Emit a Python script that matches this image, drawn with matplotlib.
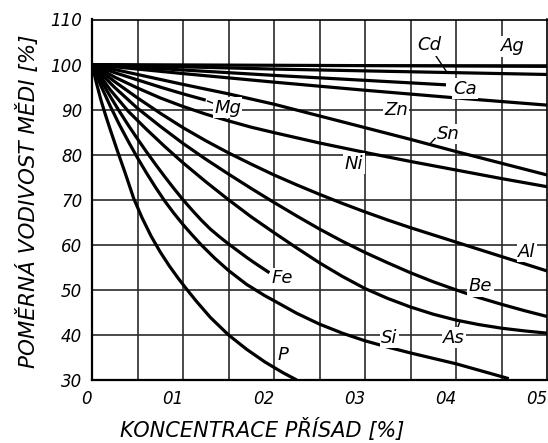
import matplotlib
matplotlib.use("Agg")
import matplotlib.pyplot as plt

# koncentrace přísady [%] a poměrná vodivost mědi [%]
ag_x = [0, 0.25, 0.5]
ag_y = [100, 99.8, 99.6]
cd_x = [0, 0.1, 0.2, 0.3, 0.4, 0.5]
cd_y = [100, 99.5, 99.0, 98.6, 98.2, 97.8]
ca_x = [0, 0.1, 0.2, 0.3, 0.389]
ca_y = [100, 98.8, 97.6, 96.5, 95.5]
zn_x = [0, 0.05, 0.1, 0.2, 0.3, 0.4, 0.5]
zn_y = [100, 99.0, 98.0, 96.1, 94.3, 92.6, 91.0]
mg_x = [0, 0.025, 0.05, 0.075, 0.1, 0.125]
mg_y = [100, 98.2, 96.6, 95.0, 93.5, 92.1]
sn_x = [0, 0.05, 0.1, 0.15, 0.2, 0.25, 0.3, 0.35, 0.4, 0.45, 0.5]
sn_y = [100, 97.8, 95.6, 93.5, 91.2, 88.6, 86.0, 83.4, 80.7, 78.1, 75.5]
ni_x = [0, 0.025, 0.05, 0.075, 0.1, 0.125, 0.15, 0.175, 0.2, 0.25, 0.3, 0.35, 0.4, 0.45, 0.5]
ni_y = [100, 97.2, 94.8, 92.6, 90.7, 89.0, 87.5, 86.1, 84.9, 82.6, 80.5, 78.5, 76.6, 74.7, 72.9]
al_x = [0, 0.025, 0.05, 0.075, 0.1, 0.125, 0.15, 0.175, 0.2, 0.225, 0.25, 0.275,
        0.3, 0.325, 0.35, 0.375, 0.4, 0.425, 0.45, 0.475, 0.5]
al_y = [100, 96.2, 92.6, 89.2, 86.0, 83.1, 80.4, 77.9, 75.5, 73.3, 71.2, 69.2,
        67.3, 65.5, 63.8, 62.2, 60.6, 59.0, 57.4, 55.8, 54.2]
be_x = [0, 0.025, 0.05, 0.075, 0.1, 0.125, 0.15, 0.175, 0.2, 0.225, 0.25, 0.275,
        0.3, 0.325, 0.35, 0.375, 0.4, 0.425, 0.45, 0.475, 0.5]
be_y = [100, 94.9, 90.3, 86.3, 82.5, 79.0, 75.7, 72.5, 69.4, 66.4, 63.5, 60.8,
        58.3, 56.0, 53.8, 51.8, 50.0, 48.3, 46.8, 45.4, 44.1]
as_x = [0, 0.02, 0.04, 0.06, 0.08, 0.1, 0.125, 0.15, 0.175, 0.2, 0.225, 0.25,
        0.275, 0.3, 0.325, 0.35, 0.375, 0.4, 0.425, 0.45, 0.475, 0.5]
as_y = [100, 94.4, 89.6, 85.6, 81.8, 78.2, 74.0, 70.0, 66.2, 62.7, 59.3, 56.0,
        53.0, 50.3, 48.1, 46.2, 44.6, 43.3, 42.3, 41.5, 40.9, 40.4]
fe_x = [0, 0.01, 0.02, 0.03, 0.04, 0.05, 0.06, 0.07, 0.08, 0.09, 0.1, 0.11, 0.12,
        0.13, 0.14, 0.15, 0.16, 0.17, 0.18, 0.195]
fe_y = [100, 96.4, 92.95, 89.65, 86.5, 83.5, 80.6, 77.8, 75.1, 72.5, 70.0, 67.7, 65.5,
        63.5, 61.8, 60.2, 58.7, 57.2, 55.8, 53.8]
si_x = [0, 0.01, 0.02, 0.03, 0.04, 0.05, 0.06, 0.07, 0.08, 0.09, 0.1, 0.11, 0.12,
        0.135, 0.15, 0.17, 0.19, 0.2, 0.225, 0.25, 0.275, 0.3, 0.325, 0.35, 0.375,
        0.4, 0.43, 0.458]
si_y = [100, 95.2, 90.8, 86.7, 82.9, 79.3, 75.9, 72.7, 69.7, 67.0, 64.5, 62.2, 60.0,
        57.0, 54.3, 51.2, 48.7, 47.6, 44.8, 42.4, 40.4, 38.7, 37.3, 36.0, 34.8,
        33.6, 31.9, 30.3]
p_x = [0, 0.005, 0.01, 0.015, 0.02, 0.028, 0.036, 0.046, 0.055, 0.065, 0.075, 0.085,
       0.095, 0.105, 0.115, 0.13, 0.15, 0.17, 0.19, 0.21, 0.225]
p_y = [100, 95.8, 92.0, 88.7, 85.6, 80.8, 76.2, 70.2, 66.0, 61.9, 58.4, 55.3,
       52.5, 49.9, 47.4, 43.9, 40.0, 36.8, 34.0, 31.6, 30.0]

curves = [(ag_x, ag_y), (cd_x, cd_y), (ca_x, ca_y), (zn_x, zn_y), (mg_x, mg_y),
          (sn_x, sn_y), (ni_x, ni_y), (al_x, al_y), (be_x, be_y), (as_x, as_y),
          (fe_x, fe_y), (si_x, si_y), (p_x, p_y)]

# popisky křivek: (text, x, y)
labels = [("Cd", 0.371, 104.3), ("Ag", 0.462, 104.1), ("Ca", 0.41, 94.6),
          ("Zn", 0.334, 89.9), ("Mg", 0.149, 90.4), ("Sn", 0.392, 84.6),
          ("Ni", 0.288, 78.0), ("Al", 0.478, 58.4), ("Be", 0.427, 50.8),
          ("Fe", 0.209, 52.6), ("As", 0.398, 39.4), ("Si", 0.327, 39.4),
          ("P", 0.21, 35.6)]

x_ticks = [0, 0.1, 0.2, 0.3, 0.4, 0.5]
x_ticklabels = ["0", "01", "02", "03", "04", "05"]
y_ticks = [30, 40, 50, 60, 70, 80, 90, 100, 110]

fig = plt.figure(figsize=(5.48, 4.43), dpi=100)
ax = fig.add_axes([92 / 548, 63 / 443, 455 / 548, 360.5 / 443])

for x in [i * 0.05 for i in range(1, 10)]:
    ax.axvline(x, color="#2a2a2a", lw=1.2, zorder=1)
for y in y_ticks[1:-1]:
    ax.axhline(y, color="#2a2a2a", lw=1.2, zorder=1)

for xs, ys in curves:
    ax.plot(xs, ys, color="black", lw=2.3, solid_capstyle="butt",
            solid_joinstyle="round", zorder=3)

# odkazové čárky k popiskům
leaders = [([0.378, 0.389], [101.9, 98.6]), ([0.127, 0.136], [91.9, 91.2]),
           ([0.377, 0.371], [83.6, 82.3]), ([0.297, 0.302], [79.3, 80.6]),
           ([0.401, 0.404], [41.2, 42.8])]
for lx, ly in leaders:
    ax.plot(lx, ly, color="black", lw=1.0, zorder=4)

for text, x, y in labels:
    ax.text(x, y, text, fontsize=13, style="italic", ha="center", va="center",
            zorder=5, bbox=dict(boxstyle="square,pad=0.08", fc="white", ec="none"))

ax.set_xlim(0, 0.5)
ax.set_ylim(30, 110)
ax.set_xticks(x_ticks)
ax.set_xticklabels(x_ticklabels, ha="right", fontsize=12, style="italic")
ax.set_yticks(y_ticks)
ax.set_yticklabels([str(v) for v in y_ticks], fontsize=12, style="italic")
ax.tick_params(length=0, pad=7)
for side in ["left", "bottom"]:
    ax.spines[side].set_linewidth(1.6)
for side in ["top", "right"]:
    ax.spines[side].set_linewidth(1.2)

fig.text(262 / 548, 0.03, "KONCENTRACE PŘÍSAD [%]", fontsize=15, style="italic",
         ha="center", va="center")
fig.text(28 / 548, 0.546, "POMĚRNÁ VODIVOST MĚDI [%]", fontsize=15.5, style="italic",
         rotation=90, ha="center", va="center")

fig.savefig("out.png", dpi=100)
